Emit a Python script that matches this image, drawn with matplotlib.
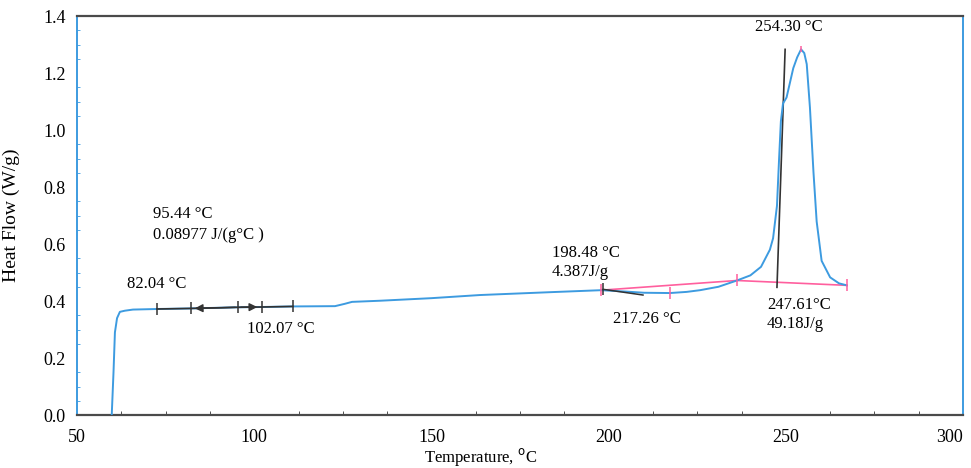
import matplotlib
matplotlib.use("Agg")
import matplotlib.pyplot as plt
import numpy as np

plt.rcParams['font.family'] = ['Liberation Serif', 'DejaVu Serif']

# DSC trace
temp = [59.8, 60.3, 60.7, 61.3, 62.1, 63.5, 65.8, 72.6, 82.2, 95.4, 102.2, 110.9,
        122.8, 125.5, 127.6, 135.5, 150.0, 163.7, 183.5, 197.9, 205.0, 210.0,
        217.3, 222.0, 225.8, 231.0, 236.2, 240.0, 243.0, 245.5, 246.4, 247.5,
        248.1, 248.6, 249.2, 250.2, 252.1, 253.2, 254.3, 255.2, 255.9, 256.8,
        257.8, 258.7, 260.1, 262.5, 265.0, 267.2]
flow = [0.0, 0.15, 0.29, 0.34, 0.362, 0.366, 0.370, 0.372, 0.374, 0.378, 0.379, 0.381,
        0.382, 0.390, 0.397, 0.401, 0.410, 0.421, 0.431, 0.438, 0.433, 0.429,
        0.428, 0.432, 0.438, 0.450, 0.472, 0.490, 0.520, 0.580, 0.620, 0.734,
        0.900, 1.030, 1.093, 1.114, 1.217, 1.255, 1.283, 1.270, 1.231, 1.079,
        0.852, 0.679, 0.541, 0.483, 0.462, 0.455]

# glass transition markers (start, onset, mid, end, stop)
tg_marks = [72.6, 82.04, 95.44, 102.07, 110.9]
# melting integration points
melt_base = [197.9, 236.2, 267.2]
melt_ticks = [197.9, 217.26, 236.2, 267.2]
tangent_t = [198.48, 209.7]
tangent_v = [0.441, 0.421]
onset_t = [247.5, 249.8]
onset_v = [0.448, 1.283]
peak_t = 254.30

x_ticks = [50, 100, 150, 200, 250, 300]
y_ticks = [0.0, 0.2, 0.4, 0.6, 0.8, 1.0, 1.2, 1.4]

blue = '#3d9be0'
pink = '#ff5f9e'
dark = '#333333'

fig = plt.figure(figsize=(9.71, 4.68), dpi=100)
ax = fig.add_axes([0.0793, 0.1132, 0.9125, 0.8526])

ax.plot(temp, flow, color=blue, lw=1.4, zorder=3)

# glass transition
tg_v = np.interp(tg_marks, temp, flow)
ax.plot(tg_marks, tg_v, color=dark, lw=1.2, zorder=4)
ax.plot(tg_marks, tg_v, ls='none', marker='|', ms=9, mew=1.1, color=dark, zorder=4)
ax.annotate('', xy=(tg_marks[1] + 0.4, tg_v[1]), xytext=(tg_marks[2], tg_v[2]),
            arrowprops=dict(arrowstyle='-|>', color=dark, lw=1.0, mutation_scale=12))
ax.annotate('', xy=(tg_marks[3] - 0.4, tg_v[3]), xytext=(tg_marks[2], tg_v[2]),
            arrowprops=dict(arrowstyle='-|>', color=dark, lw=1.0, mutation_scale=12))

# melting baseline and markers
base_v = np.interp(melt_base, temp, flow)
ax.plot(melt_base, base_v, color=pink, lw=1.2, zorder=2)
ax.plot(melt_ticks, np.interp(melt_ticks, temp, flow), ls='none', marker='|',
        ms=8, mew=1.1, color=pink, zorder=5)
ax.plot([peak_t], [max(flow)], ls='none', marker='|', ms=5, mew=1.1, color=pink, zorder=5)
ax.plot(tangent_t, tangent_v, color=dark, lw=1.1, zorder=4)
ax.plot([tangent_t[0]], [tangent_v[0]], ls='none', marker='|', ms=8, mew=1.1, color=dark, zorder=4)
ax.plot(onset_t, onset_v, color=dark, lw=1.2, zorder=2)

fs = 12
ax.text(71.4, 0.707, '95.44 \u00b0C', fontsize=fs, va='center')
ax.text(71.4, 0.631, '0.08977 J/(g\u00b0C )', fontsize=fs, va='center')
ax.text(64.1, 0.459, '82.04 \u00b0C', fontsize=fs, va='center')
ax.text(98.0, 0.303, '102.07 \u00b0C', fontsize=fs, va='center')
ax.text(184.0, 0.569, '198.48 \u00b0C', fontsize=fs, va='center')
ax.text(184.0, 0.503, '4.387J/g', fontsize=fs, va='center')
ax.text(201.2, 0.338, '217.26 \u00b0C', fontsize=fs, va='center')
ax.text(241.3, 1.362, '254.30 \u00b0C', fontsize=fs, va='center')
ax.text(244.7, 0.386, '247.61\u00b0C', fontsize=fs, va='center')
ax.text(244.7, 0.321, '49.18J/g', fontsize=fs, va='center')

ax.set_xlim(50, 300)
ax.set_ylim(0, 1.4)
ax.set_xticks(x_ticks)
ax.set_yticks(y_ticks)
ax.set_yticklabels(['%.1f' % v for v in y_ticks])
ax.set_xticks(np.arange(50, 300, 12.5), minor=True)
ax.set_yticks(np.arange(0, 1.4, 0.05), minor=True)
ax.tick_params(axis='both', which='major', length=0, labelsize=13)
ax.tick_params(axis='x', which='major', pad=10)
ax.tick_params(axis='y', which='major', pad=8)
ax.tick_params(axis='x', which='minor', direction='in', length=3, color=dark)
ax.tick_params(axis='y', which='minor', direction='in', length=2, color=blue)
# last x label sits at the right edge of the figure
ax.get_xticklabels()[-1].set_horizontalalignment('right')

for s in ['top', 'bottom']:
    ax.spines[s].set_color('#4a4a4a')
    ax.spines[s].set_linewidth(1.6)
for s in ['left', 'right']:
    ax.spines[s].set_color(blue)
    ax.spines[s].set_linewidth(1.4)

ax.set_ylabel('Heat Flow (W/g)', fontsize=14)
ax.yaxis.set_label_coords(-0.064, 0.5)
ax.set_xlabel('Temperature, $^{\\mathrm{o}}$C', fontsize=12)
ax.xaxis.set_label_coords(0.455, -0.078)

fig.savefig('out.png', dpi=100)
